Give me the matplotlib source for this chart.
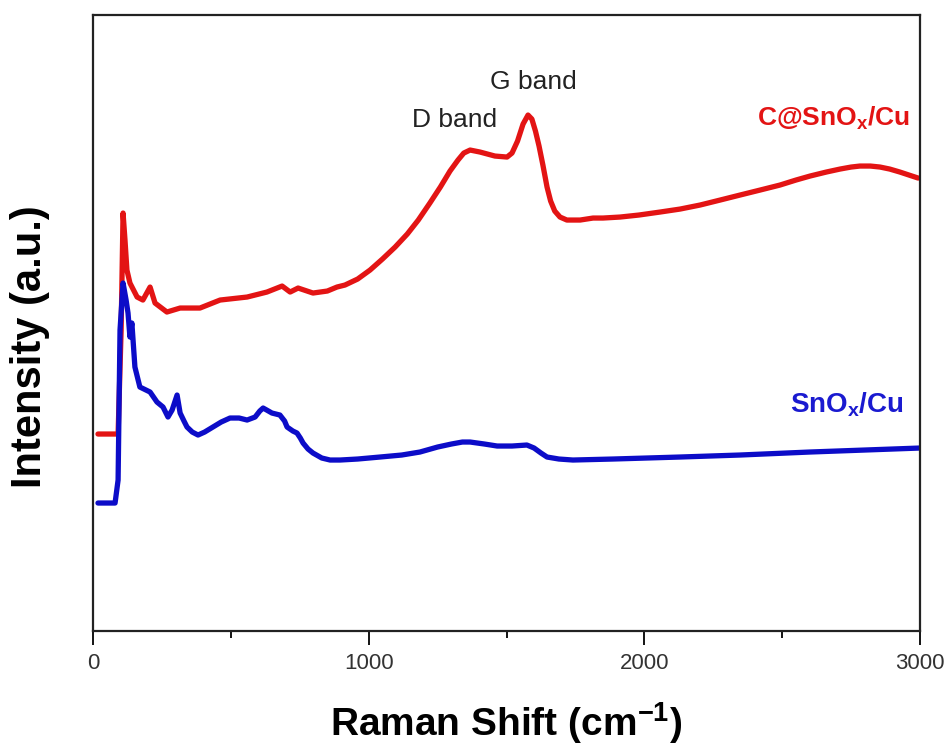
import matplotlib
matplotlib.use("Agg")
import matplotlib.pyplot as plt

plt.rcParams['font.family'] = ['Liberation Sans', 'DejaVu Sans']
plt.rcParams['mathtext.default'] = 'regular'

# Raman shift (cm-1) and intensity (a.u.)
red_x = [18, 91, 102, 109, 116, 123, 134, 160, 181, 207, 225, 268, 316, 388, 461, 559,
         631, 686, 715, 744, 798, 850, 885, 914, 960, 1005, 1050, 1096, 1140, 1180, 1222,
         1260, 1295, 1324, 1345, 1368, 1404, 1458, 1502, 1520, 1540, 1560, 1578, 1592,
         1605, 1618, 1632, 1647, 1660, 1675, 1694, 1719, 1767, 1814, 1850, 1912, 1980,
         2057, 2130, 2202, 2275, 2347, 2420, 2492, 2550, 2601, 2660, 2710, 2750, 2782,
         2820, 2855, 2890, 2927, 2960, 2993]
red_y = [197, 197, 301, 418, 391, 361, 348, 334, 331, 344, 328, 319, 323, 323, 331, 334,
         339, 345, 339, 343, 338, 340, 344, 346, 352, 361, 372, 384, 397, 411, 428,
         444, 460, 471, 478, 481, 479, 475, 474, 478, 490, 507, 516, 512,
         500, 485, 466, 444, 430, 420, 414, 411, 411, 413, 413, 414, 416,
         419, 422, 426, 431, 436, 441, 446, 451, 455, 459, 462, 464, 465,
         465, 464, 462, 459, 456, 453]

blue_x = [18, 80, 91, 98, 109, 120, 127, 134, 141, 152, 170, 207, 232, 254, 272, 287,
          305, 316, 330, 341, 360, 381, 405, 435, 465, 497, 530, 559, 588, 605, 617, 630,
          649, 678, 695, 704, 725, 740, 752, 762, 780, 798, 830, 860, 896, 960, 1041,
          1120, 1186, 1250, 1300, 1340, 1368, 1420, 1466, 1520, 1574, 1600, 1625, 1647,
          1690, 1741, 1886, 2129, 2347, 2600, 2800, 3000]
blue_y = [128, 128, 151, 301, 348, 331, 318, 294, 308, 264, 244, 239, 229, 224, 214, 221,
          236, 218, 210, 204, 199, 196, 199, 204, 209, 213, 213, 211, 214, 220, 223, 221,
          218, 216, 210, 204, 200, 198, 193, 188, 182, 178, 173, 171, 171, 172, 174,
          176, 179, 184, 187, 189, 189, 187, 185, 185, 186, 183, 178, 174,
          172, 171, 172, 174, 176, 179, 181, 183]

red_label = r"C@SnO$_{x}$/Cu"
blue_label = r"SnO$_{x}$/Cu"
x_ticks = [0, 1000, 2000, 3000]
x_minor = [500, 1500, 2500]

fig = plt.figure(figsize=(9.52, 7.53), dpi=100)
ax = fig.add_axes([0.0977, 0.162, 0.8687, 0.818])

ax.plot(red_x, red_y, color='#e31414', lw=3.8, solid_joinstyle='round', solid_capstyle='round')
ax.plot(blue_x, blue_y, color='#0c0cc8', lw=3.8, solid_joinstyle='round', solid_capstyle='round')

ax.set_xlim(0, 3000)
ax.set_ylim(0, 616)
ax.set_xticks(x_ticks)
ax.set_xticks(x_minor, minor=True)
ax.set_yticks([])
ax.tick_params(axis='x', which='major', direction='out', length=10, width=1.3,
               labelsize=16, labelcolor='#333333', pad=6)
ax.tick_params(axis='x', which='minor', direction='out', length=5, width=1.3)
for s in ax.spines.values():
    s.set_linewidth(1.6)
    s.set_color('#222222')

ax.set_xlabel(r"Raman Shift (cm$^{-1}$)", fontsize=28, fontweight='bold')
ax.xaxis.set_label_coords(0.5, -0.112)
ax.set_ylabel("Intensity (a.u.)", fontsize=30, fontweight='bold')
ax.yaxis.set_label_coords(-0.052, 0.462)

ax.text(2964, 513, red_label, color='#e31414', fontsize=19, fontweight='bold',
        ha='right', va='center')
ax.text(2942, 226, blue_label, color='#1a1ad0', fontsize=20, fontweight='bold',
        ha='right', va='center')
ax.text(1313, 511, "D band", color='#222222', fontsize=19, ha='center', va='center')
ax.text(1596, 549, "G band", color='#222222', fontsize=19, ha='center', va='center')

fig.savefig("out.png", dpi=100)
